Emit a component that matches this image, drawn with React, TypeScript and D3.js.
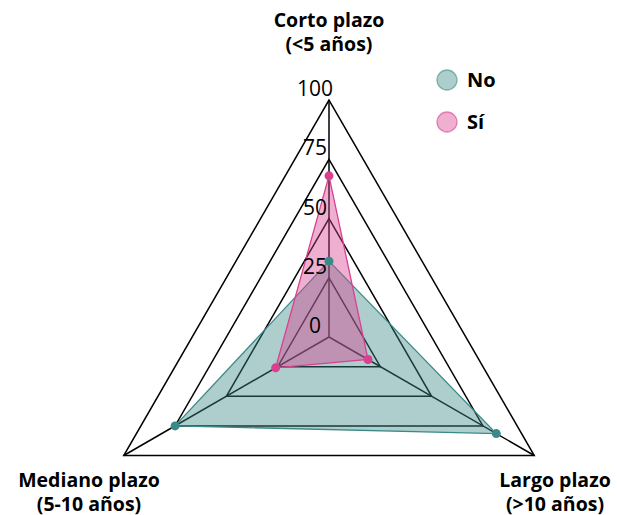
import React, { useRef, useEffect } from 'react';
import * as d3 from 'd3';

const axisLabels = [
  ["Corto plazo", "(<5 años)"],
  ["Largo plazo", "(>10 años)"],
  ["Mediano plazo", "(5-10 años)"]
];
const levelTicks = [0, 25, 50, 75, 100];
const seriesNames = ["No", "Sí"];
const noValues = [32, 81.5, 75];
const siValues = [68, 19, 26];

const colors = { No: "#3b8a88", "Sí": "#d9418f" };

const App = () => {
  const svgRef = useRef<SVGSVGElement>(null);

  useEffect(() => {
    const svg = d3.select(svgRef.current);
    svg.selectAll("*").remove();

    const cx = 329;
    const cy = 337;
    const radius = 237;
    const font = "'Open Sans', sans-serif";

    const rScale = d3.scaleLinear().domain([0, 100]).range([0, radius]);
    const angleSlice = (Math.PI * 2) / axisLabels.length;

    const g = svg.append("g").attr("transform", `translate(${cx}, ${cy})`);

    // grille triangulaire
    const gridLine = d3.lineRadial<number>()
      .radius(d => rScale(d))
      .angle((d, i) => i * angleSlice)
      .curve(d3.curveLinearClosed);

    g.selectAll(".level")
      .data(levelTicks.filter(d => d > 0))
      .enter()
      .append("path")
      .attr("d", d => gridLine(axisLabels.map(() => d)))
      .attr("fill", "none")
      .attr("stroke", "#000")
      .attr("stroke-width", 1.5);

    g.selectAll(".axis")
      .data(axisLabels)
      .enter()
      .append("line")
      .attr("x1", 0)
      .attr("y1", 0)
      .attr("x2", (d, i) => Math.sin(i * angleSlice) * rScale(100))
      .attr("y2", (d, i) => -Math.cos(i * angleSlice) * rScale(100))
      .attr("stroke", "#000")
      .attr("stroke-width", 1.5);

    // séries
    const seriesData = [
      { key: "No", values: noValues },
      { key: "Sí", values: siValues }
    ];

    seriesData.forEach(s => {
      const col = colors[s.key];
      g.append("path")
        .attr("d", gridLine(s.values))
        .attr("fill", col)
        .attr("fill-opacity", 0.42)
        .attr("stroke", col)
        .attr("stroke-width", 1.3);
    });

    seriesData.forEach(s => {
      const col = colors[s.key];
      g.selectAll(null)
        .data(s.values)
        .enter()
        .append("circle")
        .attr("cx", (d, i) => Math.sin(i * angleSlice) * rScale(d))
        .attr("cy", (d, i) => -Math.cos(i * angleSlice) * rScale(d))
        .attr("r", 4.5)
        .attr("fill", col);
    });

    // étiquettes des niveaux
    g.selectAll(".tick")
      .data(levelTicks)
      .enter()
      .append("text")
      .attr("x", -14)
      .attr("y", d => -rScale(d) - 4)
      .attr("text-anchor", "middle")
      .style("font-family", font)
      .style("font-size", "21px")
      .style("fill", "#000")
      .text(d => d);

    // étiquettes des axes
    const labelPos = [
      { x: cx, y: 27 },
      { x: 555, y: 487 },
      { x: 89, y: 487 }
    ];
    axisLabels.forEach((lines, i) => {
      lines.forEach((line, j) => {
        svg.append("text")
          .attr("text-anchor", "middle")
          .attr("x", labelPos[i].x)
          .attr("y", labelPos[i].y + j * 24)
          .style("font-family", font)
          .style("font-weight", "bold")
          .style("font-size", "19.5px")
          .style("fill", "#000")
          .text(line);
      });
    });

    // légende
    const legend = svg.append("g").attr("transform", "translate(447, 80)");
    seriesNames.forEach((name, i) => {
      const col = colors[name];
      legend.append("circle")
        .attr("cx", 0)
        .attr("cy", i * 42)
        .attr("r", 10)
        .attr("fill", col)
        .attr("fill-opacity", 0.42)
        .attr("stroke", col)
        .attr("stroke-opacity", 0.6)
        .attr("stroke-width", 1.3);
      legend.append("text")
        .attr("x", 20)
        .attr("y", i * 42 + 7)
        .style("font-family", font)
        .style("font-weight", "bold")
        .style("font-size", "20px")
        .style("fill", "#000")
        .text(name);
    });
  }, []);

  return (
    <svg
      ref={svgRef}
      width={617}
      height={515}
      style={{ position: 'fixed', left: 0, top: 0, background: '#fff' }}
    ></svg>
  );
};

export default App;
